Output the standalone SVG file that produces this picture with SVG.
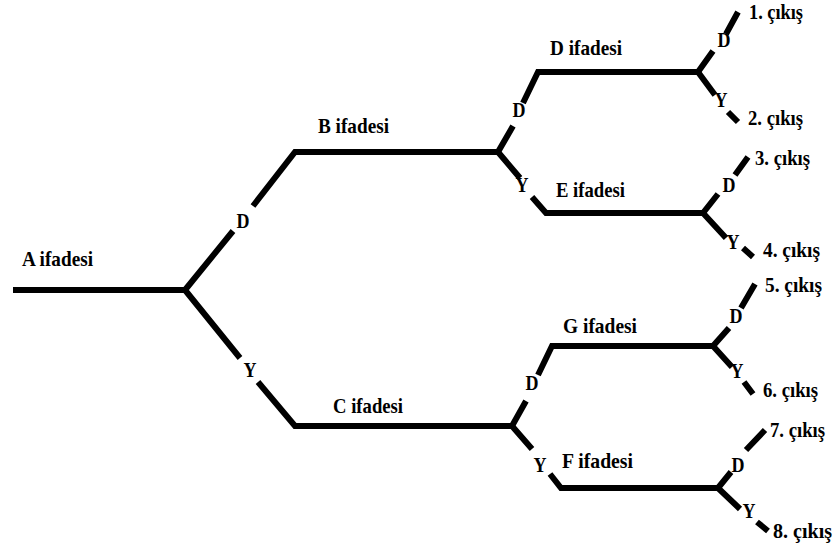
<svg xmlns="http://www.w3.org/2000/svg" width="835" height="549" viewBox="0 0 835 549">
<style>
.ln{fill:none;stroke:#000;stroke-width:6;stroke-linejoin:miter;stroke-linecap:butt}
.t{font-family:"Liberation Serif","Times New Roman",serif;font-weight:bold;font-size:21px;fill:#000}
.e{font-family:"Liberation Serif","Times New Roman",serif;font-weight:bold;font-size:20px;fill:#000;text-anchor:middle}
</style>
<rect width="835" height="549" fill="#fff"/>
<g id="connectors">
<path class="ln" d="M13,290 L185,290"/>
<path class="ln" d="M185,290 L233,231 M253,206 L295,152 L498,152"/>
<path class="ln" d="M185,290 L240,358 M258,382 L295,426 L512,426"/>
<path class="ln" d="M498,152 L513,126 M523,103 L538,72 L698,72"/>
<path class="ln" d="M498,152 L520,178 M532,197 L546,213 L703,213"/>
<path class="ln" d="M698,72 L713,51 M726,34 L738,12"/>
<path class="ln" d="M698,72 L715,95 M728,112 L738,122"/>
<path class="ln" d="M703,213 L718,194 M735,175 L748,157"/>
<path class="ln" d="M703,213 L726,238 M743,248 L753,257"/>
<path class="ln" d="M512,426 L526,401 M538,375 L552,346 L713,346"/>
<path class="ln" d="M512,426 L532,449 M550,474 L561,488 L718,488"/>
<path class="ln" d="M713,346 L729,328 M741,308 L755,284"/>
<path class="ln" d="M713,346 L732,367 M744,382 L753,394"/>
<path class="ln" d="M718,488 L731,472 M746,450 L765,430"/>
<path class="ln" d="M718,488 L740,509 M757,522 L768,531"/>
<text class="e" x="243" y="228" textLength="13" lengthAdjust="spacingAndGlyphs">D</text>
<text class="e" x="250" y="377" textLength="13" lengthAdjust="spacingAndGlyphs">Y</text>
<text class="e" x="519" y="117" textLength="13" lengthAdjust="spacingAndGlyphs">D</text>
<text class="e" x="522" y="192" textLength="13" lengthAdjust="spacingAndGlyphs">Y</text>
<text class="e" x="724" y="47" textLength="13" lengthAdjust="spacingAndGlyphs">D</text>
<text class="e" x="721" y="107" textLength="13" lengthAdjust="spacingAndGlyphs">Y</text>
<text class="e" x="729" y="192" textLength="13" lengthAdjust="spacingAndGlyphs">D</text>
<text class="e" x="733" y="249" textLength="13" lengthAdjust="spacingAndGlyphs">Y</text>
<text class="e" x="532" y="390" textLength="13" lengthAdjust="spacingAndGlyphs">D</text>
<text class="e" x="540" y="472" textLength="13" lengthAdjust="spacingAndGlyphs">Y</text>
<text class="e" x="736" y="323" textLength="13" lengthAdjust="spacingAndGlyphs">D</text>
<text class="e" x="737" y="378" textLength="13" lengthAdjust="spacingAndGlyphs">Y</text>
<text class="e" x="738" y="472" textLength="13" lengthAdjust="spacingAndGlyphs">D</text>
<text class="e" x="749" y="518" textLength="13" lengthAdjust="spacingAndGlyphs">Y</text>
</g>
<g id="nodeA"><text class="t" x="22" y="266" textLength="71" lengthAdjust="spacingAndGlyphs">A ifadesi</text></g>
<g id="nodeB"><text class="t" x="318" y="133" textLength="71" lengthAdjust="spacingAndGlyphs">B ifadesi</text></g>
<g id="nodeC"><text class="t" x="333" y="413" textLength="70" lengthAdjust="spacingAndGlyphs">C ifadesi</text></g>
<g id="nodeD"><text class="t" x="550" y="55" textLength="72" lengthAdjust="spacingAndGlyphs">D ifadesi</text></g>
<g id="nodeE"><text class="t" x="556" y="197" textLength="69" lengthAdjust="spacingAndGlyphs">E ifadesi</text></g>
<g id="nodeG"><text class="t" x="563" y="333" textLength="74" lengthAdjust="spacingAndGlyphs">G ifadesi</text></g>
<g id="nodeF"><text class="t" x="562" y="468" textLength="71" lengthAdjust="spacingAndGlyphs">F ifadesi</text></g>
<g id="out1"><text class="t" x="749" y="19" textLength="54" lengthAdjust="spacingAndGlyphs">1. çıkış</text></g>
<g id="out2"><text class="t" x="748" y="125" textLength="55" lengthAdjust="spacingAndGlyphs">2. çıkış</text></g>
<g id="out3"><text class="t" x="755" y="165" textLength="55" lengthAdjust="spacingAndGlyphs">3. çıkış</text></g>
<g id="out4"><text class="t" x="763" y="257" textLength="57" lengthAdjust="spacingAndGlyphs">4. çıkış</text></g>
<g id="out5"><text class="t" x="765" y="292" textLength="57" lengthAdjust="spacingAndGlyphs">5. çıkış</text></g>
<g id="out6"><text class="t" x="763" y="397" textLength="55" lengthAdjust="spacingAndGlyphs">6. çıkış</text></g>
<g id="out7"><text class="t" x="770" y="437" textLength="55" lengthAdjust="spacingAndGlyphs">7. çıkış</text></g>
<g id="out8"><text class="t" x="773" y="538" textLength="59" lengthAdjust="spacingAndGlyphs">8. çıkış</text></g>
</svg>
